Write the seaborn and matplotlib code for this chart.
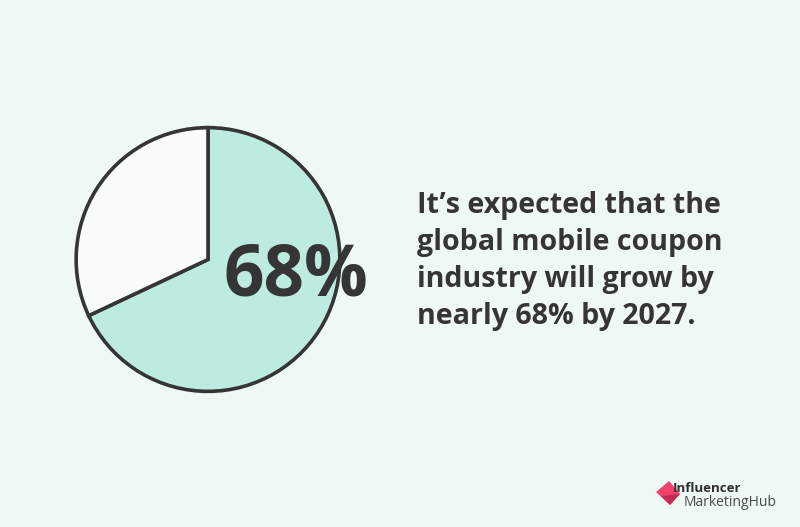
import matplotlib
matplotlib.use("Agg")
import matplotlib.pyplot as plt
import seaborn as sns
from matplotlib.patches import Polygon

# Data
labels = ["Growth", "Remaining"]
values = [68, 32]
slice_colors = ["#BDEBDF", "#F8FDFB"]
big_label = "68%"
caption_lines = ["It\u2019s expected that the", "global mobile coupon",
                 "industry will grow by", "nearly 68% by 2027."]

BG = "#EEF9F5"
INK = "#353535"

sns.set_theme(style="white")
plt.rcParams["font.family"] = ["Open Sans", "DejaVu Sans"]

W, H = 800, 527
fig = plt.figure(figsize=(W / 100, H / 100), dpi=100)
fig.patch.set_facecolor(BG)

# Pie
cx, cy, r = 208, 259.5, 134.5
ax = fig.add_axes([(cx - r) / W, (H - cy - r) / H, 2 * r / W, 2 * r / H])
ax.set_facecolor("none")
ax.pie(values, colors=slice_colors, startangle=90, counterclock=False,
       radius=1, wedgeprops=dict(edgecolor=INK, linewidth=2.6))
ax.set_xlim(-1.02, 1.02)
ax.set_ylim(-1.02, 1.02)
ax.set_aspect("equal")
ax.axis("off")

# Overlay axes in pixel coordinates
ov = fig.add_axes([0, 0, 1, 1])
ov.set_xlim(0, W)
ov.set_ylim(H, 0)
ov.axis("off")
ov.set_facecolor("none")

ov.text(296, 277, big_label, fontsize=51, fontweight="bold", color=INK,
        ha="center", va="center")

y0 = 205
for i, line in enumerate(caption_lines):
    ov.text(417, y0 + i * 37.3, line, fontsize=20.6, fontweight="bold",
            color=INK, ha="left", va="center")

# Logo
ov.add_patch(Polygon([(656, 492), (669, 481), (680, 494), (670, 505)],
                     closed=True, facecolor="#EF436C", edgecolor="none"))
ov.add_patch(Polygon([(661, 496), (680, 494), (670, 505)],
                     closed=True, facecolor="#C42C57", edgecolor="none"))
ov.text(673, 488, "Influencer", fontsize=9.5, fontweight="bold", color="#2E2E2E",
        ha="left", va="center")
ov.text(684, 502, "MarketingHub", fontsize=10, color="#4A4A4A",
        ha="left", va="center")

fig.savefig("out.png", dpi=100, facecolor=BG)
